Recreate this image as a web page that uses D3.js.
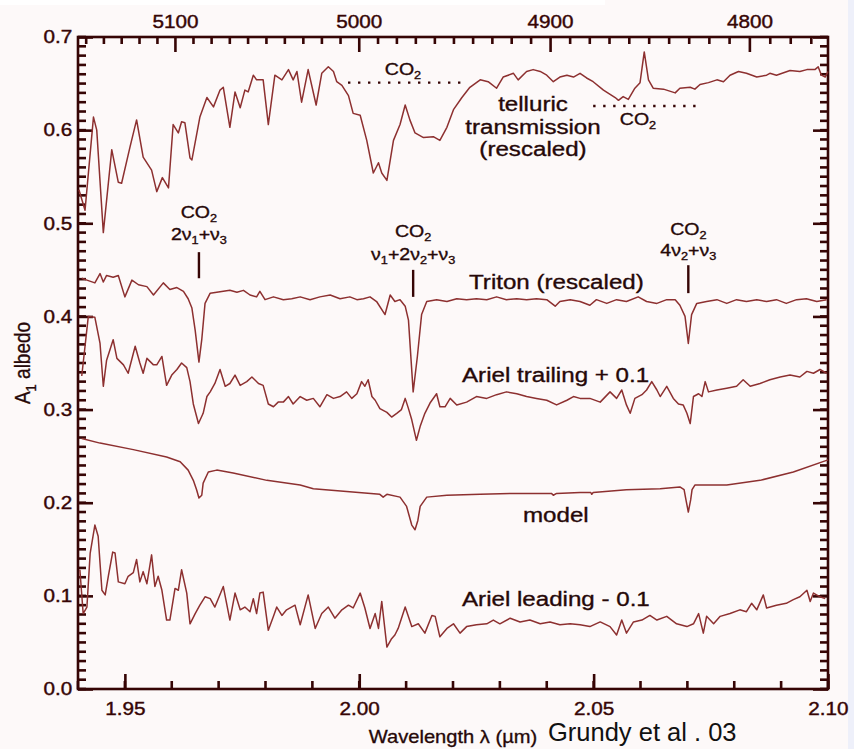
<!DOCTYPE html>
<html>
<head>
<meta charset="utf-8">
<script src="https://cdn.jsdelivr.net/npm/d3@7"></script>
<style>
  body { margin: 0; background: #fdf9f9; }
  text { font-family: "Liberation Sans", Arial, sans-serif; }
</style>
</head>
<body>
<div id="canvas"></div>
<script>
var width = 854;
var height = 749;

// axis ranges and ticks
const lambdaRange = [1.94, 2.10];
const albedoRange = [0, 0.7];
const xTickValues = [1.95, 2.00, 2.05, 2.10];
const xTickLabels = ["1.95", "2.00", "2.05", "2.10"];
const yTickValues = [0.0, 0.1, 0.2, 0.3, 0.4, 0.5, 0.6, 0.7];
const yTickLabels = ["0.0", "0.1", "0.2", "0.3", "0.4", "0.5", "0.6", "0.7"];
const waveTickValues = [5100, 5000, 4900, 4800];   // cm-1 on the top axis
const waveTickLabels = ["5100", "5000", "4900", "4800"];

// spectra, [wavelength um, albedo]
const telluric = [
  [1.9402,0.536],[1.9415,0.514],[1.9433,0.614],[1.9440,0.600],[1.9454,0.490],[1.9472,0.579],
  [1.9486,0.544],[1.9493,0.543],[1.9511,0.582],[1.9525,0.611],[1.9539,0.571],[1.9557,0.557],
  [1.9568,0.534],[1.9580,0.549],[1.9593,0.538],[1.9603,0.606],[1.9614,0.597],[1.9621,0.609],
  [1.9628,0.608],[1.9639,0.570],[1.9643,0.568],[1.9660,0.614],[1.9675,0.635],[1.9689,0.625],
  [1.9703,0.643],[1.9710,0.646],[1.9724,0.603],[1.9735,0.641],[1.9746,0.624],[1.9756,0.643],
  [1.9763,0.641],[1.9774,0.659],[1.9781,0.654],[1.9795,0.654],[1.9806,0.606],[1.9820,0.659],
  [1.9835,0.654],[1.9849,0.665],[1.9859,0.654],[1.9867,0.663],[1.9877,0.630],[1.9891,0.665],
  [1.9908,0.627],[1.9920,0.661],[1.9934,0.668],[1.9945,0.663],[1.9952,0.652],[1.9963,0.648],
  [1.9977,0.637],[1.9987,0.618],[2.0002,0.616],[2.0016,0.589],[2.0030,0.554],[2.0041,0.565],
  [2.0048,0.554],[2.0059,0.546],[2.0073,0.589],[2.0087,0.606],[2.0098,0.627],[2.0108,0.611],
  [2.0119,0.597],[2.0137,0.592],[2.0158,0.593],[2.0172,0.589],[2.0187,0.603],[2.0201,0.622],
  [2.0219,0.635],[2.0236,0.646],[2.0258,0.654],[2.0275,0.652],[2.0293,0.645],[2.0307,0.657],
  [2.0329,0.661],[2.0339,0.654],[2.0357,0.663],[2.0371,0.665],[2.0386,0.663],[2.0400,0.659],
  [2.0414,0.652],[2.0428,0.657],[2.0443,0.659],[2.0457,0.657],[2.0471,0.661],[2.0485,0.656],
  [2.0499,0.652],[2.0521,0.643],[2.0546,0.635],[2.0553,0.632],[2.0563,0.636],[2.0574,0.633],
  [2.0588,0.645],[2.0599,0.651],[2.0608,0.684],[2.0617,0.654],[2.0627,0.645],[2.0649,0.644],
  [2.0674,0.640],[2.0684,0.645],[2.0706,0.646],[2.0716,0.644],[2.0727,0.649],[2.0745,0.651],
  [2.0763,0.654],[2.0777,0.652],[2.0791,0.659],[2.0809,0.663],[2.0826,0.661],[2.0848,0.657],
  [2.0869,0.659],[2.0876,0.661],[2.0890,0.659],[2.0919,0.664],[2.0940,0.663],[2.0955,0.665],
  [2.0972,0.665],[2.0979,0.668],[2.0986,0.659],[2.0994,0.657],[2.1000,0.663]
];

const triton = [
  [1.9408,0.441],[1.9419,0.439],[1.9436,0.436],[1.9447,0.446],[1.9454,0.437],[1.9461,0.444],
  [1.9475,0.442],[1.9486,0.444],[1.9500,0.421],[1.9515,0.439],[1.9529,0.434],[1.9547,0.432],
  [1.9561,0.423],[1.9582,0.436],[1.9596,0.429],[1.9611,0.431],[1.9625,0.427],[1.9635,0.419],
  [1.9643,0.409],[1.9650,0.385],[1.9658,0.351],[1.9664,0.375],[1.9671,0.414],[1.9682,0.425],
  [1.9696,0.426],[1.9710,0.427],[1.9724,0.428],[1.9739,0.426],[1.9753,0.428],[1.9767,0.423],
  [1.9781,0.421],[1.9788,0.427],[1.9799,0.418],[1.9817,0.421],[1.9838,0.418],[1.9856,0.419],
  [1.9874,0.421],[1.9895,0.418],[1.9916,0.421],[1.9938,0.423],[1.9959,0.419],[1.9980,0.421],
  [1.9995,0.418],[2.0009,0.419],[2.0023,0.421],[2.0037,0.416],[2.0055,0.402],[2.0066,0.423],
  [2.0076,0.416],[2.0087,0.418],[2.0098,0.411],[2.0105,0.396],[2.0115,0.319],[2.0124,0.357],
  [2.0133,0.402],[2.0144,0.416],[2.0165,0.418],[2.0187,0.416],[2.0208,0.419],[2.0229,0.418],
  [2.0250,0.419],[2.0272,0.418],[2.0293,0.421],[2.0314,0.418],[2.0336,0.419],[2.0357,0.418],
  [2.0378,0.419],[2.0400,0.418],[2.0418,0.411],[2.0428,0.416],[2.0450,0.418],[2.0471,0.416],
  [2.0492,0.412],[2.0506,0.418],[2.0528,0.414],[2.0549,0.418],[2.0570,0.416],[2.0595,0.421],
  [2.0613,0.416],[2.0635,0.414],[2.0656,0.418],[2.0674,0.418],[2.0684,0.412],[2.0695,0.400],
  [2.0702,0.371],[2.0709,0.402],[2.0720,0.414],[2.0741,0.416],[2.0763,0.418],[2.0784,0.414],
  [2.0805,0.418],[2.0826,0.416],[2.0848,0.418],[2.0869,0.416],[2.0890,0.418],[2.0911,0.414],
  [2.0933,0.418],[2.0954,0.419],[2.0976,0.416],[2.0997,0.418]
];

const arielTrailing = [
  [1.9408,0.336],[1.9422,0.400],[1.9436,0.399],[1.9447,0.371],[1.9454,0.325],[1.9461,0.353],
  [1.9475,0.375],[1.9483,0.355],[1.9497,0.348],[1.9507,0.339],[1.9522,0.368],[1.9532,0.350],
  [1.9539,0.339],[1.9547,0.355],[1.9561,0.348],[1.9568,0.348],[1.9579,0.357],[1.9589,0.326],
  [1.9600,0.337],[1.9611,0.343],[1.9621,0.350],[1.9632,0.345],[1.9639,0.330],[1.9646,0.306],
  [1.9657,0.285],[1.9667,0.296],[1.9675,0.314],[1.9682,0.319],[1.9692,0.328],[1.9703,0.343],
  [1.9714,0.325],[1.9724,0.328],[1.9735,0.337],[1.9746,0.326],[1.9760,0.330],[1.9771,0.335],
  [1.9785,0.328],[1.9795,0.326],[1.9806,0.306],[1.9817,0.303],[1.9827,0.308],[1.9838,0.308],
  [1.9849,0.314],[1.9859,0.306],[1.9874,0.314],[1.9888,0.310],[1.9902,0.312],[1.9916,0.303],
  [1.9931,0.316],[1.9945,0.312],[1.9959,0.314],[1.9973,0.319],[1.9984,0.312],[1.9995,0.317],
  [2.0005,0.330],[2.0012,0.325],[2.0019,0.332],[2.0027,0.314],[2.0034,0.310],[2.0044,0.301],
  [2.0059,0.297],[2.0069,0.292],[2.0080,0.296],[2.0090,0.300],[2.0098,0.312],[2.0105,0.301],
  [2.0112,0.289],[2.0122,0.267],[2.0130,0.282],[2.0140,0.296],[2.0151,0.307],[2.0165,0.317],
  [2.0172,0.303],[2.0183,0.303],[2.0194,0.312],[2.0208,0.305],[2.0229,0.308],[2.0250,0.314],
  [2.0272,0.312],[2.0293,0.316],[2.0314,0.319],[2.0336,0.317],[2.0357,0.314],[2.0378,0.312],
  [2.0400,0.310],[2.0421,0.305],[2.0443,0.310],[2.0457,0.314],[2.0471,0.312],[2.0492,0.312],
  [2.0514,0.308],[2.0535,0.319],[2.0549,0.312],[2.0560,0.321],[2.0570,0.305],[2.0578,0.296],
  [2.0588,0.312],[2.0603,0.316],[2.0613,0.321],[2.0624,0.330],[2.0635,0.321],[2.0642,0.314],
  [2.0656,0.325],[2.0670,0.312],[2.0681,0.306],[2.0691,0.305],[2.0699,0.296],[2.0706,0.285],
  [2.0713,0.314],[2.0724,0.317],[2.0731,0.314],[2.0738,0.330],[2.0745,0.319],[2.0763,0.321],
  [2.0784,0.323],[2.0805,0.325],[2.0819,0.332],[2.0834,0.325],[2.0855,0.328],[2.0876,0.332],
  [2.0898,0.335],[2.0919,0.337],[2.0940,0.335],[2.0955,0.341],[2.0969,0.339],[2.0983,0.343],
  [2.0997,0.339]
];

const model = [
  [1.9408,0.269],[1.9447,0.264],[1.9518,0.257],[1.9589,0.249],[1.9618,0.244],[1.9635,0.235],
  [1.9646,0.224],[1.9653,0.214],[1.9658,0.205],[1.9664,0.208],[1.9667,0.221],[1.9678,0.233],
  [1.9696,0.235],[1.9731,0.232],[1.9803,0.224],[1.9874,0.219],[1.9902,0.215],[1.9973,0.212],
  [2.0044,0.209],[2.0051,0.206],[2.0059,0.209],[2.0087,0.206],[2.0101,0.196],[2.0112,0.176],
  [2.0119,0.171],[2.0125,0.181],[2.0130,0.196],[2.0144,0.206],[2.0187,0.208],[2.0258,0.209],
  [2.0329,0.210],[2.0410,0.210],[2.0414,0.208],[2.0421,0.210],[2.0471,0.211],[2.0494,0.211],
  [2.0496,0.209],[2.0499,0.211],[2.0570,0.214],[2.0642,0.215],[2.0684,0.217],[2.0693,0.214],
  [2.0697,0.203],[2.0702,0.190],[2.0707,0.203],[2.0710,0.214],[2.0716,0.219],[2.0784,0.219],
  [2.0855,0.224],[2.0926,0.233],[2.1000,0.246]
];

const arielLeading = [
  [1.9404,0.128],[1.9411,0.081],[1.9419,0.088],[1.9426,0.146],[1.9436,0.176],[1.9443,0.164],
  [1.9451,0.106],[1.9458,0.101],[1.9465,0.122],[1.9474,0.147],[1.9479,0.146],[1.9486,0.115],
  [1.9500,0.113],[1.9507,0.121],[1.9518,0.125],[1.9525,0.139],[1.9532,0.115],[1.9539,0.126],
  [1.9547,0.113],[1.9557,0.144],[1.9564,0.110],[1.9571,0.121],[1.9579,0.106],[1.9589,0.074],
  [1.9596,0.074],[1.9607,0.108],[1.9614,0.106],[1.9621,0.128],[1.9632,0.103],[1.9639,0.070],
  [1.9650,0.081],[1.9660,0.090],[1.9671,0.099],[1.9682,0.097],[1.9692,0.088],[1.9710,0.110],
  [1.9724,0.074],[1.9735,0.103],[1.9746,0.085],[1.9756,0.088],[1.9767,0.083],[1.9774,0.097],
  [1.9781,0.081],[1.9788,0.103],[1.9795,0.104],[1.9806,0.063],[1.9817,0.078],[1.9824,0.088],
  [1.9835,0.079],[1.9845,0.085],[1.9863,0.090],[1.9874,0.069],[1.9891,0.101],[1.9906,0.065],
  [1.9920,0.081],[1.9934,0.088],[1.9948,0.076],[1.9963,0.085],[1.9977,0.090],[1.9987,0.087],
  [2.0002,0.103],[2.0012,0.087],[2.0023,0.065],[2.0034,0.081],[2.0041,0.065],[2.0048,0.094],
  [2.0059,0.045],[2.0069,0.054],[2.0076,0.058],[2.0083,0.065],[2.0098,0.088],[2.0112,0.067],
  [2.0126,0.070],[2.0140,0.060],[2.0155,0.079],[2.0162,0.078],[2.0172,0.056],[2.0187,0.065],
  [2.0201,0.070],[2.0215,0.060],[2.0229,0.067],[2.0250,0.069],[2.0272,0.070],[2.0286,0.074],
  [2.0300,0.070],[2.0322,0.076],[2.0343,0.072],[2.0364,0.074],[2.0386,0.070],[2.0407,0.072],
  [2.0428,0.069],[2.0450,0.070],[2.0471,0.069],[2.0492,0.067],[2.0514,0.072],[2.0535,0.067],
  [2.0549,0.058],[2.0560,0.074],[2.0570,0.060],[2.0585,0.072],[2.0603,0.074],[2.0620,0.079],
  [2.0635,0.074],[2.0656,0.078],[2.0677,0.070],[2.0699,0.067],[2.0713,0.070],[2.0724,0.081],
  [2.0734,0.060],[2.0741,0.078],[2.0756,0.070],[2.0770,0.078],[2.0791,0.081],[2.0812,0.085],
  [2.0826,0.083],[2.0837,0.092],[2.0848,0.085],[2.0862,0.101],[2.0869,0.087],[2.0890,0.090],
  [2.0911,0.092],[2.0926,0.096],[2.0940,0.099],[2.0955,0.106],[2.0962,0.094],[2.0969,0.103],
  [2.0983,0.099],[2.0994,0.097]
];

// telluric CO2 bands shown as dotted bars: [from, to, albedo]
const telluricCO2 = [[1.9976, 2.0226, 0.651], [2.0499, 2.0721, 0.626]];
// CO2 ice bands marked on the Triton spectrum
const bandCenters = [1.9658, 2.0115, 2.0702];
const bandNames = [["2ν", "1", "+ν", "3"], ["ν", "1", "+2ν", "2", "+ν", "3"], ["4ν", "2", "+ν", "3"]];

const lineColor = "#8d3030";
const axisColor = "#360505";
const textColor = "#260808";
const sx = 1.15;   // the original figure is stretched sideways

const x = d3.scaleLinear().domain(lambdaRange).range([78, 828]);
const y = d3.scaleLinear().domain(albedoRange).range([689, 37]);

var svg = d3.select("#canvas").append("svg")
    .attr("width", width)
    .attr("height", height);

svg.append("rect").attr("width", width).attr("height", height).attr("fill", "#fdf9f9");
svg.append("rect").attr("width", 605).attr("height", 5).attr("fill", "#ffffff");
svg.append("rect").attr("x", 848).attr("width", 6).attr("height", height).attr("fill", "#eef0fa");

// text helper: parts alternate normal / subscript
function label(px, py, parts, size, anchor) {
    const t = svg.append("text")
        .attr("transform", `translate(${px},${py}) scale(${sx},1)`)
        .attr("text-anchor", anchor || "start")
        .attr("font-size", size)
        .attr("fill", textColor)
        .attr("stroke", textColor).attr("stroke-width", 0.35);
    let down = false;
    parts.forEach((p, i) => {
        const sub = i % 2 === 1;
        const ts = t.append("tspan").text(p);
        if (sub) {
            ts.attr("font-size", size * 0.65).attr("dy", size * 0.24);
            down = true;
        } else if (down) {
            ts.attr("dy", -size * 0.24);
            down = false;
        }
    });
    return t;
}

// ---- axes ----
function styleAxis(g) {
    g.select(".domain").remove();
    g.selectAll("line").attr("stroke", axisColor).attr("stroke-width", 2.6);
    g.selectAll("text").attr("fill", axisColor).attr("font-size", 18)
        .attr("stroke", axisColor).attr("stroke-width", 0.4)
        .style("font-family", "'Liberation Sans', Arial, sans-serif")
        .attr("transform", `scale(${sx},1)`);
}

// minor ticks, drawn inward from each side
const xMinor = d3.range(1.94, 2.1001, 0.01);
const yMinor = d3.range(0, 0.7001, 0.01);
const minor = svg.append("g").attr("stroke", axisColor).attr("stroke-width", 2.6);
minor.selectAll("line.xb").data(xMinor).enter().append("line").attr("class", "xb")
    .attr("x1", d => x(d)).attr("x2", d => x(d)).attr("y1", 689).attr("y2", 681);
minor.selectAll("line.yl").data(yMinor).enter().append("line").attr("class", "yl")
    .attr("x1", 78).attr("x2", 86).attr("y1", d => y(d)).attr("y2", d => y(d));
minor.selectAll("line.yr").data(yMinor).enter().append("line").attr("class", "yr")
    .attr("x1", 820).attr("x2", 828).attr("y1", d => y(d)).attr("y2", d => y(d));

svg.append("g").attr("transform", "translate(0,689)")
    .call(d3.axisBottom(x).tickValues(xTickValues).tickSize(-15).tickPadding(13)
        .tickFormat((d, i) => xTickLabels[i]))
    .call(styleAxis);
svg.append("g").attr("transform", "translate(78,0)")
    .call(d3.axisLeft(y).tickValues(yTickValues).tickSize(-15).tickPadding(5)
        .tickFormat((d, i) => yTickLabels[i]))
    .call(styleAxis);
svg.append("g").attr("transform", "translate(828,0)")
    .call(d3.axisRight(y).tickValues(yTickValues).tickSize(-15).tickFormat(() => ""))
    .call(styleAxis);

// top axis in wavenumber (cm-1) = 1e4 / lambda
const waveMinor = d3.range(4770, 5151, 10);
const topAxis = svg.append("g");
topAxis.selectAll("line").data(waveMinor).enter().append("line")
    .attr("x1", d => x(1e4 / d)).attr("x2", d => x(1e4 / d))
    .attr("y1", 37).attr("y2", d => waveTickValues.includes(d) ? 52 : 44)
    .attr("stroke", axisColor).attr("stroke-width", 2.6);
waveTickValues.forEach((d, i) => {
    topAxis.append("text")
        .attr("transform", `translate(${x(1e4 / d)},28) scale(${sx},1)`)
        .attr("text-anchor", "middle").attr("font-size", 18).attr("fill", axisColor)
        .attr("stroke", axisColor).attr("stroke-width", 0.4)
        .text(waveTickLabels[i]);
});

// frame
svg.append("rect").attr("x", 78).attr("y", 37).attr("width", 750).attr("height", 652)
    .attr("fill", "none").attr("stroke", axisColor).attr("stroke-width", 2.6);

// axis titles
svg.append("text")
    .attr("transform", `translate(453,743) scale(${sx},1)`)
    .attr("text-anchor", "middle").attr("font-size", 17.5).attr("fill", textColor)
    .attr("stroke", textColor).attr("stroke-width", 0.3)
    .text("Wavelength λ (µm)");
const yt = svg.append("text")
    .attr("transform", "translate(30,363) rotate(-90) scale(1,1.15)")
    .attr("text-anchor", "middle").attr("font-size", 19).attr("fill", textColor)
    .attr("stroke", textColor).attr("stroke-width", 0.3);
yt.append("tspan").text("A");
yt.append("tspan").text("1").attr("font-size", 13).attr("dy", 5);
yt.append("tspan").text(" albedo").attr("dy", -5);

// ---- spectra ----
const line = d3.line().x(d => x(d[0])).y(d => y(d[1]));
[telluric, triton, arielTrailing, model, arielLeading].forEach(s => {
    svg.append("path").datum(s)
        .attr("d", line)
        .attr("fill", "none")
        .attr("stroke", lineColor)
        .attr("stroke-width", 1.5)
        .attr("stroke-linejoin", "round");
});

// telluric CO2 dotted bars
svg.selectAll("line.co2").data(telluricCO2).enter().append("line")
    .attr("class", "co2")
    .attr("x1", d => x(d[0])).attr("x2", d => x(d[1]))
    .attr("y1", d => y(d[2])).attr("y2", d => y(d[2]))
    .attr("stroke", axisColor).attr("stroke-width", 2.4)
    .attr("stroke-dasharray", "2.4,7.6");
label(403, 75, ["CO", "2"], 17, "middle");
label(638, 125, ["CO", "2"], 17, "middle");

label(533, 111, ["telluric"], 21, "middle");
label(533, 134, ["transmission"], 21, "middle");
label(533, 156, ["(rescaled)"], 21, "middle");

// CO2 band markers
const bandTextY = [[218, 240], [237, 260], [235, 256]];
const bandTick = [[0.469, 0.441], [0.450, 0.421], [0.455, 0.425]];
bandCenters.forEach((c, i) => {
    label(x(c), bandTextY[i][0], ["CO", "2"], 17, "middle");
    label(x(c), bandTextY[i][1], bandNames[i], 17, "middle");
    svg.append("line")
        .attr("x1", x(c)).attr("x2", x(c))
        .attr("y1", y(bandTick[i][0])).attr("y2", y(bandTick[i][1]))
        .attr("stroke", axisColor).attr("stroke-width", 2.4);
});

// series names
label(469, 289, ["Triton (rescaled)"], 21);
label(462, 382, ["Ariel trailing + 0.1"], 21);
label(523, 522, ["model"], 21);
label(462, 606, ["Ariel leading - 0.1"], 21);

// credit
svg.append("text").attr("x", 548).attr("y", 741)
    .attr("font-size", 25.5).attr("fill", "#111111")
    .text("Grundy et al . 03");
</script>
</body>
</html>
